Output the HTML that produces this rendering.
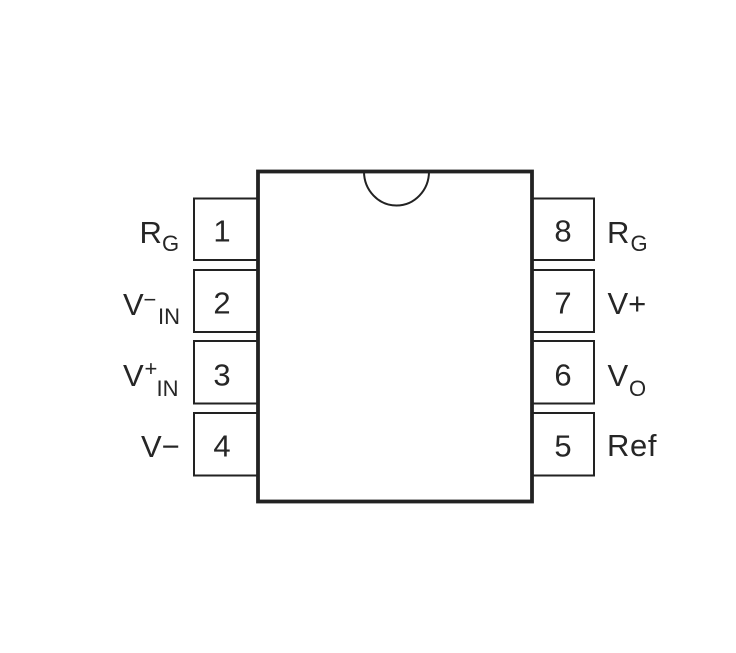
<!DOCTYPE html>
<html>
<head>
<meta charset="utf-8">
<style>
html,body{margin:0;padding:0;background:#fff}
svg{display:block}
text{font-family:"Liberation Sans",sans-serif;fill:#262626}
.p{font-size:31px;text-anchor:middle}
.l{font-size:31px}
.s{font-size:22px}
.u{font-size:22px}
</style>
</head>
<body>
<svg width="736" height="653" viewBox="0 0 736 653" xmlns="http://www.w3.org/2000/svg">
<rect width="736" height="653" fill="#fff"/>
<g fill="none" stroke="#222" stroke-width="2">
<path d="M258 198.5H194V260H258"/>
<path d="M258 270H194V332H258"/>
<path d="M258 341H194V403.5H258"/>
<path d="M258 413H194V475.5H258"/>
<path d="M532 198.5H594V260H532"/>
<path d="M532 270H594V332H532"/>
<path d="M532 341H594V403.5H532"/>
<path d="M532 413H594V475.5H532"/>
<path d="M364 171.5A32.5 34 0 0 0 429 171.5" stroke-width="2"/>
</g>
<rect x="258" y="171.5" width="274" height="330" fill="none" stroke="#222" stroke-width="3.8"/>

<text class="p" x="222" y="241.5">1</text>
<text class="p" x="222" y="313.5">2</text>
<text class="p" x="222" y="385.5">3</text>
<text class="p" x="222" y="456.5">4</text>
<text class="p" x="563" y="241.5">8</text>
<text class="p" x="563" y="313.5">7</text>
<text class="p" x="563" y="385.5">6</text>
<text class="p" x="563" y="456.5">5</text>

<text class="l" x="139.5" y="243">R</text><text class="s" x="162" y="251">G</text>
<text class="l" x="123" y="315">V</text><text class="u" x="143.5" y="307">−</text><text class="s" x="158" y="324">IN</text>
<text class="l" x="123" y="386">V</text><text class="u" x="144.5" y="376">+</text><text class="s" x="156.5" y="396">IN</text>
<text class="l" x="141" y="457">V−</text>

<text class="l" x="607" y="243">R</text><text class="s" x="630.5" y="251">G</text>
<text class="l" x="607.5" y="314">V+</text>
<text class="l" x="607.5" y="386">V</text><text class="s" x="629" y="396">O</text>
<text class="l" x="607" y="456" textLength="49.5">Ref</text>
</svg>
</body>
</html>
